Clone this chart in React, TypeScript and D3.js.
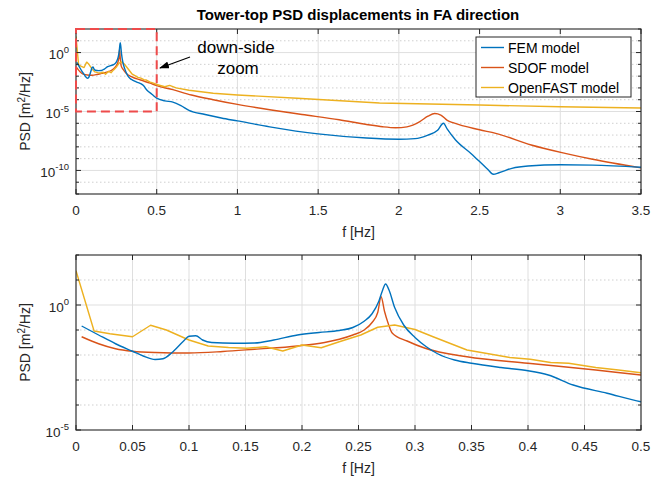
import React from 'react';
import * as d3 from 'd3';

// PSD data: [frequency in Hz, log10(PSD in m^2/Hz)]
const femData: [number, number][] = [
  [0.005, -0.84], [0.02, -1.2], [0.035, -1.55], [0.05, -1.85], [0.06, -2.05], [0.07, -2.18],
  [0.077, -2.15], [0.085, -1.9], [0.095, -1.45], [0.1, -1.25], [0.106, -1.23], [0.112, -1.4],
  [0.12, -1.5], [0.14, -1.53], [0.158, -1.52], [0.175, -1.4], [0.196, -1.2], [0.215, -1.1],
  [0.233, -1.02], [0.245, -0.9], [0.255, -0.65], [0.262, -0.35], [0.268, 0.15], [0.271, 0.55],
  [0.274, 0.84], [0.277, 0.6], [0.282, -0.1], [0.29, -0.8], [0.3, -1.3], [0.31, -1.67],
  [0.32, -1.95], [0.335, -2.2], [0.35, -2.33], [0.376, -2.5], [0.4, -2.63], [0.418, -2.8],
  [0.44, -3.2], [0.47, -3.53], [0.5, -3.87], [0.55, -4.1], [0.6, -4.2], [0.65, -4.5],
  [0.7, -4.9], [0.8, -5.25], [0.9, -5.55], [1.0, -5.8], [1.2, -6.3], [1.5, -6.9],
  [1.8, -7.25], [2.0, -7.35], [2.1, -7.3], [2.18, -7.0], [2.24, -6.6], [2.276, -6.0],
  [2.3, -6.5], [2.35, -7.4], [2.45, -8.6], [2.55, -9.9], [2.585, -10.32], [2.62, -10.2],
  [2.7, -9.82], [2.8, -9.62], [3.0, -9.52], [3.2, -9.55], [3.5, -9.73],
];

const sdofData: [number, number][] = [
  [0.005, -1.27], [0.02, -1.55], [0.035, -1.75], [0.05, -1.85], [0.07, -1.9], [0.1, -1.92],
  [0.13, -1.86], [0.158, -1.77], [0.196, -1.64], [0.22, -1.5], [0.233, -1.37], [0.245, -1.2],
  [0.255, -1.0], [0.262, -0.7], [0.267, -0.3], [0.27, 0.33], [0.273, -0.25], [0.276, -0.7],
  [0.28, -1.13], [0.293, -1.44], [0.309, -1.73], [0.346, -2.07], [0.4, -2.33], [0.46, -2.6],
  [0.5, -2.8], [0.6, -3.15], [0.715, -3.6], [0.85, -4.0], [1.0, -4.4], [1.21, -4.87],
  [1.4, -5.25], [1.63, -5.7], [1.8, -6.1], [1.9, -6.3], [1.98, -6.38], [2.05, -6.3],
  [2.13, -5.86], [2.18, -5.4], [2.222, -5.17], [2.26, -5.3], [2.3, -5.75], [2.34, -5.97],
  [2.5, -6.55], [2.6, -6.85], [2.82, -7.84], [3.03, -8.55], [3.2, -9.05], [3.5, -9.78],
];

const openFastData: [number, number][] = [
  [0, 1.37], [0.016, -1.04], [0.03, -1.15], [0.05, -1.27], [0.066, -0.81], [0.08, -1.0],
  [0.1, -1.4], [0.117, -1.64], [0.135, -1.7], [0.151, -1.73], [0.168, -1.67], [0.183, -1.84],
  [0.2, -1.6], [0.217, -1.71], [0.233, -1.47], [0.252, -1.2], [0.267, -0.89], [0.282, -0.8],
  [0.3, -0.98], [0.316, -1.27], [0.346, -1.8], [0.384, -2.1], [0.402, -2.17], [0.42, -2.3],
  [0.436, -2.33], [0.46, -2.5], [0.48, -2.6], [0.5, -2.71], [0.55, -2.9], [0.58, -2.78],
  [0.62, -3.0], [0.7, -3.2], [0.85, -3.45], [1.0, -3.6], [1.37, -3.88], [1.88, -4.28],
  [2.5, -4.45], [3.0, -4.6], [3.5, -4.7],
];

const seriesNames = ['FEM model', 'SDOF model', 'OpenFAST model'];
const seriesColors = ['#0072BD', '#D95319', '#EDB120'];

const topXTicks = [0, 0.5, 1, 1.5, 2, 2.5, 3, 3.5];
const bottomXTicks = [0, 0.05, 0.1, 0.15, 0.2, 0.25, 0.3, 0.35, 0.4, 0.45, 0.5];
const topYLabelExps = [0, -5, -10];
const bottomYLabelExps = [0, -5];

const titleText = 'Tower-top PSD displacements in FA direction';
const xLabelText = 'f [Hz]';

const FONT = '"Liberation Sans", Arial, Helvetica, sans-serif';
const AXIS = '#262626';

type PanelProps = {
  id: string;
  x0: number; x1: number; y0: number; y1: number;
  xMax: number; yMinExp: number; yMaxExp: number;
  xTicks: number[]; labelExps: number[];
  extra?: (x: any, y: any) => React.ReactNode;
};

function Panel({ id, x0, x1, y0, y1, xMax, yMinExp, yMaxExp, xTicks, labelExps, extra }: PanelProps) {
  const x = d3.scaleLinear().domain([0, xMax]).range([x0, x1]);
  const y = d3.scaleLog().domain([Math.pow(10, yMinExp), Math.pow(10, yMaxExp)]).range([y1, y0]);
  const decades = d3.range(yMinExp, yMaxExp + 1);
  const series = [femData, sdofData, openFastData];
  const curves = [d3.curveMonotoneX, d3.curveMonotoneX, d3.curveLinear];
  return (
    <g>
      <defs>
        <clipPath id={id}>
          <rect x={x0} y={y0} width={x1 - x0} height={y1 - y0} />
        </clipPath>
      </defs>
      <rect x={x0} y={y0} width={x1 - x0} height={y1 - y0} fill="#fff" />
      {/* grid */}
      {xTicks.map((t) => (
        <line key={'xg' + t} x1={x(t)} x2={x(t)} y1={y0} y2={y1} stroke="#dfdfdf" strokeWidth={1} />
      ))}
      {decades.map((e) => {
        const yy = y(Math.pow(10, e));
        if (e === yMinExp || e === yMaxExp) return null;
        const major = labelExps.includes(e);
        return (
          <line key={'yg' + e} x1={x0} x2={x1} y1={yy} y2={yy}
            stroke={major ? '#dfdfdf' : '#cfcfcf'} strokeWidth={1}
            strokeDasharray={major ? undefined : '1.5,2.5'} />
        );
      })}
      {/* data */}
      <g clipPath={`url(#${id})`}>
        {[1, 2, 0].map((i) => {
          const line = d3.line<[number, number]>()
            .x((d) => x(d[0]))
            .y((d) => y(Math.pow(10, d[1])))
            .curve(curves[i]);
          return (
            <path key={'s' + i} d={line(series[i]) || ''} fill="none"
              stroke={seriesColors[i]} strokeWidth={1.4} strokeLinejoin="round" />
          );
        })}
      </g>
      {/* ticks */}
      {xTicks.map((t) => (
        <g key={'xt' + t}>
          <line x1={x(t)} x2={x(t)} y1={y1} y2={y1 - 5} stroke={AXIS} />
          <line x1={x(t)} x2={x(t)} y1={y0} y2={y0 + 5} stroke={AXIS} />
          <text x={x(t)} y={y1 + 21} textAnchor="middle" fontSize={13.5} fill={AXIS} fontFamily={FONT}>
            {String(t)}
          </text>
        </g>
      ))}
      {decades.map((e) => {
        const yy = y(Math.pow(10, e));
        const major = labelExps.includes(e);
        const len = major ? 5 : 3;
        return (
          <g key={'yt' + e}>
            <line x1={x0} x2={x0 + len} y1={yy} y2={yy} stroke={AXIS} />
            <line x1={x1} x2={x1 - len} y1={yy} y2={yy} stroke={AXIS} />
          </g>
        );
      })}
      {labelExps.map((e) => {
        const yy = y(Math.pow(10, e));
        return (
          <text key={'yl' + e} x={x0 - 7} y={yy + 6.5} textAnchor="end" fontSize={13.5} fill={AXIS} fontFamily={FONT}>
            10<tspan dy={-6.5} fontSize={9.5}>{String(e)}</tspan>
          </text>
        );
      })}
      <rect x={x0} y={y0} width={x1 - x0} height={y1 - y0} fill="none" stroke={AXIS} strokeWidth={1.1} />
      {/* axis labels */}
      <text x={(x0 + x1) / 2} y={y1 + 42.5} textAnchor="middle" fontSize={14} fill={AXIS} fontFamily={FONT}>
        {xLabelText}
      </text>
      <text transform={`translate(30,${(y0 + y1) / 2}) rotate(-90)`} textAnchor="middle" fontSize={14} fill={AXIS} fontFamily={FONT}>
        PSD [m<tspan dy={-5} fontSize={10}>2</tspan><tspan dy={5}>/Hz]</tspan>
      </text>
      {extra ? extra(x, y) : null}
    </g>
  );
}

export default function App() {
  const W = 665;
  const H = 479;
  const L = 76;
  const R = 641;

  const topExtra = (x: any, y: any) => {
    const bx0 = x(0), bx1 = x(0.5), by0 = y(1e2), by1 = y(1e-5);
    const lgX = 476, lgY = 37, lgW = 155, lgH = 60;
    return (
      <g>
        <rect x={bx0} y={by0} width={bx1 - bx0} height={by1 - by0} fill="none"
          stroke="#EE4B4B" strokeWidth={2} strokeDasharray="9,5" />
        <rect x={lgX} y={lgY} width={lgW} height={lgH} fill="#fff" stroke={AXIS} strokeWidth={1} />
        {seriesNames.map((n, i) => {
          const cy = lgY + 10.5 + i * 20;
          return (
            <g key={n}>
              <line x1={lgX + 5} x2={lgX + 28} y1={cy} y2={cy} stroke={seriesColors[i]} strokeWidth={1.4} />
              <text x={lgX + 32} y={cy + 5} fontSize={14} fill="#000" fontFamily={FONT}>{n}</text>
            </g>
          );
        })}
        <text x={236} y={52.5} textAnchor="middle" fontSize={17} fill="#000" fontFamily={FONT}>down-side</text>
        <text x={238} y={74} textAnchor="middle" fontSize={17} fill="#000" fontFamily={FONT}>zoom</text>
        <line x1={190} y1={57} x2={160} y2={68} stroke="#000" strokeWidth={1.2} markerEnd="url(#arrowHead)" />
      </g>
    );
  };

  return (
    <svg width={W} height={H} viewBox={`0 0 ${W} ${H}`}
      style={{ position: 'absolute', left: 0, top: 0, background: '#fff' }}>
      <defs>
        <marker id="arrowHead" viewBox="0 0 10 7" refX={9} refY={3.5} markerWidth={10} markerHeight={7}
          markerUnits="userSpaceOnUse" orient="auto">
          <path d="M0,0 L10,3.5 L0,7 z" fill="#000" />
        </marker>
      </defs>
      <rect x={0} y={0} width={W} height={H} fill="#fff" />
      <text x={358} y={20} textAnchor="middle" fontSize={15} fontWeight="bold" fill="#000" fontFamily={FONT}>
        {titleText}
      </text>
      <Panel id="clipTop" x0={L} x1={R} y0={29} y1={194} xMax={3.5} yMinExp={-12} yMaxExp={2}
        xTicks={topXTicks} labelExps={topYLabelExps} extra={topExtra} />
      <Panel id="clipBottom" x0={L} x1={R} y0={255} y1={430} xMax={0.5} yMinExp={-5} yMaxExp={2}
        xTicks={bottomXTicks} labelExps={bottomYLabelExps} />
    </svg>
  );
}
